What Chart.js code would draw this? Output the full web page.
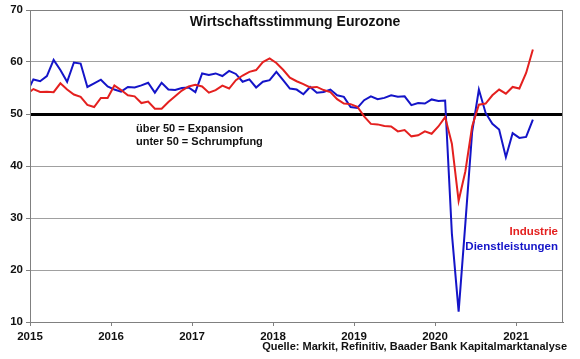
<!DOCTYPE html>
<html>
<head>
<meta charset="utf-8">
<script src="https://cdn.jsdelivr.net/npm/chart.js@4/dist/chart.umd.min.js"></script>
<style>
  html, body { margin: 0; padding: 0; background: #fff; }
  #wrap { width: 580px; height: 359px; }
</style>
</head>
<body>
<div id="wrap"><canvas id="c" width="580" height="359"></canvas></div>
<script>
// ---- categories: monthly, Dec 2014 .. Mar 2021 ----
const firstMonth = '2014-12';
const lastMonth = '2021-03';
const months = [];
(function () {
  let [y, m] = firstMonth.split('-').map(Number);
  const [ly, lm] = lastMonth.split('-').map(Number);
  while (y < ly || (y === ly && m <= lm)) {
    months.push(y + '-' + String(m).padStart(2, '0'));
    m++; if (m > 12) { m = 1; y++; }
  }
})();

// ---- series ----
const industrie = [
  53.8,
  54.8, 54.25, 54.3, 54.2, 55.9, 54.7, 53.75, 53.3, 51.75, 51.35, 53.1, 53.1,
  55.5, 54.6, 53.6, 53.4, 52.1, 52.4, 51.0, 51.0, 52.3, 53.4, 54.5, 55.3,
  55.6, 55.3, 54.1, 54.6, 55.45, 54.9, 56.5, 57.4, 58.1, 58.45, 60.0, 60.7,
  59.8, 58.5, 57.0, 56.3, 55.75, 55.1, 55.2, 54.6, 54.2, 52.85, 52.0, 51.9,
  51.4, 49.55, 48.1, 48.0, 47.7, 47.6, 46.65, 46.9, 45.7, 45.9, 46.65, 46.2,
  47.6, 49.4, 44.3, 33.3, 39.0, 47.6, 51.8, 52.0, 53.6, 54.7, 53.9, 55.2,
  54.9, 57.9, 62.4
];
const dienstleistungen = [
  54.0,
  56.65, 56.3, 57.3, 60.4, 58.45, 56.2, 59.9, 59.7, 55.2, 55.9, 56.6, 55.3,
  54.7, 54.3, 55.2, 55.1, 55.5, 56.0, 54.1, 56.0, 54.7, 54.6, 55.0, 55.1,
  54.2, 57.8, 57.5, 57.8, 57.3, 58.3, 57.7, 56.2, 56.65, 55.1, 56.2, 56.5,
  58.1, 56.5, 54.9, 54.7, 53.8, 55.2, 54.1, 54.25, 54.7, 53.6, 53.3, 51.35,
  51.15, 52.65, 53.4, 52.85, 53.1, 53.6, 53.3, 53.4, 51.7, 52.1, 52.0, 52.8,
  52.5, 52.6, 27.0, 12.0, 29.0, 46.5, 54.7, 50.2, 48.1, 47.0, 41.7, 46.3,
  45.4, 45.6, 48.9
];

// ---- tick labels ----
const yearLabels = ['2015', '2016', '2017', '2018', '2019', '2020', '2021'];
const yTickValues = [10, 20, 30, 40, 50, 60, 70];

// ---- texts ----
const titleText = 'Wirtschaftsstimmung Eurozone';
const noteLines = ['über 50 = Expansion', 'unter 50 = Schrumpfung'];
const legendIndustrie = 'Industrie';
const legendDienst = 'Dienstleistungen';
const sourceText = 'Quelle: Markit, Refinitiv, Baader Bank Kapitalmarktanalyse';

const FONT = '"Liberation Sans", Arial, sans-serif';
const RED = '#e4201f';
const BLUE = '#1414c8';

function monthToX(s) {
  const [y, m] = s.split('-').map(Number);
  return y + (m - 0.5) / 12;
}
const toPoints = arr => arr.map((v, i) => ({ x: monthToX(months[i]), y: v }));

const bgPlugin = {
  id: 'bg',
  beforeDraw(chart) {
    const c = chart.ctx;
    c.save(); c.fillStyle = '#fff'; c.fillRect(0, 0, chart.width, chart.height); c.restore();
  }
};

const textPlugin = {
  id: 'texts',
  afterDraw(chart) {
    const c = chart.ctx;
    const a = chart.chartArea;
    c.save();
    // plot frame
    c.strokeStyle = '#808080'; c.lineWidth = 1;
    c.strokeRect(Math.round(a.left) + 0.5, Math.round(a.top) + 0.5, Math.round(a.right - a.left) - 1, Math.round(a.bottom - a.top));
    c.textBaseline = 'middle';
    // title
    c.fillStyle = '#111';
    c.font = 'bold 14px ' + FONT;
    c.textAlign = 'center';
    c.fillText(titleText, 295, 22);
    // note
    c.font = 'bold 11px ' + FONT;
    c.textAlign = 'left';
    c.fillText(noteLines[0], 136, 129);
    c.fillText(noteLines[1], 136, 142);
    // legend
    c.font = 'bold 11.5px ' + FONT;
    c.textAlign = 'right';
    c.fillStyle = RED;
    c.fillText(legendIndustrie, 558, 232);
    c.fillStyle = BLUE;
    c.fillText(legendDienst, 558, 247);
    // source
    c.fillStyle = '#111';
    c.font = 'bold 11px ' + FONT;
    c.fillText(sourceText, 567, 347);
    c.restore();
  }
};

new Chart(document.getElementById('c'), {
  type: 'line',
  data: {
    datasets: [
      { label: legendIndustrie, data: toPoints(industrie), borderColor: RED, borderWidth: 2, pointRadius: 0, tension: 0, fill: false },
      { label: legendDienst, data: toPoints(dienstleistungen), borderColor: BLUE, borderWidth: 2, pointRadius: 0, tension: 0, fill: false }
    ]
  },
  options: {
    responsive: false,
    animation: false,
    devicePixelRatio: 1,
    layout: { padding: { top: 10, right: 17, left: 0, bottom: 0 } },
    plugins: { legend: { display: false }, tooltip: { enabled: false }, title: { display: false } },
    scales: {
      x: {
        type: 'linear',
        min: Number(yearLabels[0]),
        max: Number(yearLabels[0]) + 533 / 81,
        afterBuildTicks: s => { s.ticks = yearLabels.map(v => ({ value: Number(v) })); },
        afterFit: s => { s.height = 37; },
        ticks: {
          autoSkip: false, maxRotation: 0, padding: 4,
          color: '#111', font: { family: FONT, size: 11.5, weight: 'bold' },
          callback: v => String(v)
        },
        grid: { drawOnChartArea: false, tickLength: 4, color: '#808080', tickColor: '#808080' },
        border: { color: '#808080', width: 1 }
      },
      y: {
        min: yTickValues[0],
        max: yTickValues[yTickValues.length - 1],
        afterBuildTicks: s => { s.ticks = yTickValues.map(v => ({ value: v })); },
        afterFit: s => { s.width = 30; },
        ticks: {
          padding: 3,
          color: '#111', font: { family: FONT, size: 11.5, weight: 'bold' }
        },
        grid: {
          color: ctx => (ctx.tick && ctx.tick.value === 50) ? '#000' : '#a0a0a0',
          lineWidth: ctx => (ctx.tick && ctx.tick.value === 50) ? 3 : 1,
          tickColor: '#808080', tickWidth: 1, tickLength: 4
        },
        border: { color: '#808080', width: 1 }
      }
    }
  },
  plugins: [bgPlugin, textPlugin]
});
</script>
</body>
</html>
